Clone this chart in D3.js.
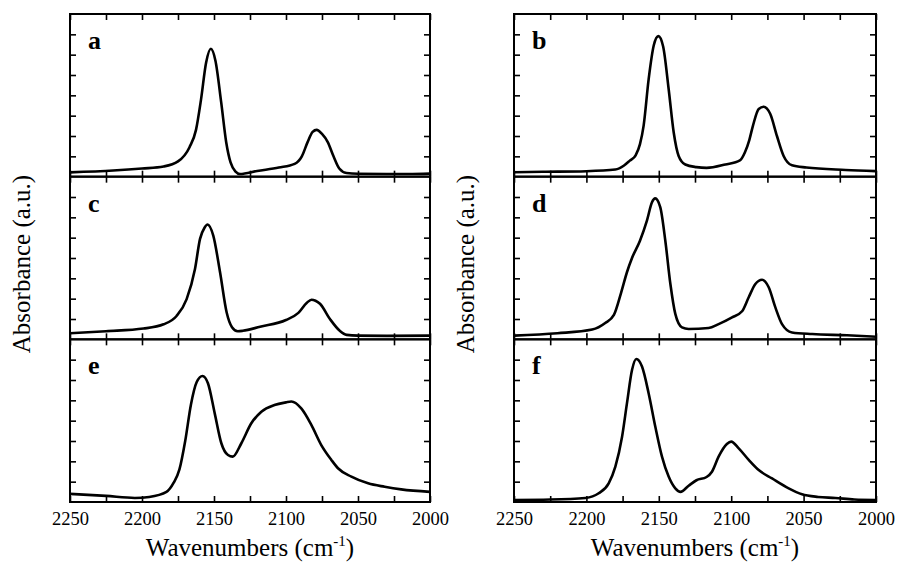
<!DOCTYPE html>
<html>
<head>
<meta charset="utf-8">
<script src="https://cdn.jsdelivr.net/npm/d3@7"></script>
<style>
  body { margin: 0; background: #fff; }
  svg text { font-family: "Liberation Serif", "DejaVu Serif", "Times New Roman", serif; fill: #000; }
</style>
</head>
<body>
<div id="chart"></div>
<script>
// data (wavenumber in cm-1, absorbance in tick units)
var wnA  = [2250,2220,2200,2185,2175,2167,2162.5,2159,2155.5,2152.2,2149,2145,2141.5,2138.5,2135,2132,2120,2105,2094,2089,2085,2081.5,2078.7,2075,2071,2067,2063,2058,2050,2030,2015,2000];
var absA = [0.21,0.3,0.4,0.5,0.75,1.45,2.3,3.8,5.6,6.29,5.7,3.65,1.68,0.7,0.25,0.13,0.28,0.45,0.63,1.0,1.7,2.2,2.3,2.1,1.7,1.0,0.4,0.18,0.14,0.13,0.13,0.15];

var wnB  = [2250,2230,2200,2180,2174,2170,2166,2163,2160.5,2157,2153.5,2150.3,2147,2143.2,2139.7,2136.3,2131.7,2124,2117,2104,2094,2090.5,2087.5,2085,2081,2077.6,2073,2068.4,2063.8,2058,2048,2021,2000];
var absB = [0.22,0.24,0.27,0.35,0.55,0.79,1.05,1.6,2.5,4.8,6.45,6.91,6.4,4.31,2.17,1.02,0.6,0.47,0.43,0.6,0.8,1.2,1.8,2.5,3.33,3.44,3.08,2.0,1.02,0.56,0.45,0.33,0.27];

var wnC  = [2250,2225,2199,2185,2176,2169,2163.2,2159.7,2156.5,2154.5,2150.5,2145.8,2141.2,2137.5,2133.5,2130,2118,2100,2091.4,2085.5,2082.3,2079.5,2076.4,2069.4,2062.5,2057.9,2050,2030,2000];
var absC = [0.3,0.4,0.53,0.74,1.15,1.98,3.46,4.94,5.5,5.65,5.1,3.3,1.32,0.6,0.4,0.42,0.62,0.95,1.3,1.8,1.95,1.9,1.75,0.99,0.41,0.22,0.18,0.17,0.18];

var wnD  = [2250,2220,2196,2187,2181,2176,2172,2168.5,2163,2158.2,2154.7,2152.5,2149,2145.5,2142,2138.6,2134,2129.4,2115.6,2108.7,2099.4,2092.5,2087.9,2083.3,2078.7,2074.1,2069.5,2064.9,2058,2044,2020,2000];
var absD = [0.18,0.3,0.48,0.8,1.2,2.3,3.3,4.0,4.85,5.84,6.74,6.93,6.5,4.85,2.72,1.25,0.59,0.51,0.56,0.75,1.08,1.38,2.07,2.72,2.93,2.56,1.57,0.75,0.34,0.26,0.2,0.13];

var wnE  = [2250,2225,2205,2195,2183,2178,2174,2170,2166,2162,2158,2154.2,2149.5,2144.9,2140.3,2137,2131,2124.1,2117.1,2108,2100,2096.3,2089.4,2082.4,2075.5,2068.5,2063.9,2054.6,2043,2031.5,2020,2000];
var absE = [0.4,0.3,0.2,0.25,0.5,0.95,1.6,3.0,4.8,5.9,6.2,5.84,4.36,2.89,2.31,2.23,2.89,3.87,4.44,4.77,4.9,4.94,4.6,3.79,2.8,2.07,1.66,1.25,0.92,0.75,0.62,0.5];

var wnF  = [2250,2225,2200.7,2191.5,2184.6,2180,2175.4,2172,2168.5,2165.5,2161.6,2157,2152.4,2147.8,2143.2,2138.6,2135,2129.4,2124,2117,2113.3,2108.7,2103,2100,2094.8,2087.9,2081,2071.8,2060.3,2051.1,2040,2028,2015,2000];
var absF = [0.1,0.12,0.2,0.43,0.92,1.74,3.2,4.85,6.49,7.03,6.66,5.34,3.7,2.23,1.25,0.67,0.5,0.8,1.07,1.23,1.49,2.23,2.85,2.97,2.64,2.07,1.57,1.16,0.67,0.38,0.25,0.2,0.12,0.1];

var panelLabels = ["a","b","c","d","e","f"];
var xTicks = d3.range(2250, 1999, -25);
var xLabels = [2250, 2200, 2150, 2100, 2050, 2000];
var yTicks = [1,2,3,4,5,6,7];

var series = [[wnA,absA],[wnB,absB],[wnC,absC],[wnD,absD],[wnE,absE],[wnF,absF]];

var serif = "'Liberation Serif', 'DejaVu Serif', 'Times New Roman', serif";
var W = 897, H = 562;
var colLeft = [70, 514], colWidth = [360, 362];
var top0 = 14, bottom0 = 502, rowH = (bottom0 - top0) / 3;

var svg = d3.select("#chart").append("svg")
  .attr("width", W).attr("height", H);

series.forEach(function(s, i) {
  var col = i % 2, row = Math.floor(i / 2);
  var x0 = colLeft[col], x1 = colLeft[col] + colWidth[col];
  var yTop = top0 + row * rowH, yBot = yTop + rowH;

  var x = d3.scaleLinear().domain([2250, 2000]).range([x0, x1]);
  var y = d3.scaleLinear().domain([0, 8]).range([yBot, yTop]);

  var g = svg.append("g");

  // ticks pointing in on every side
  var bottomAxis = d3.axisBottom(x).tickValues(xTicks).tickSize(-6).tickSizeOuter(0)
    .tickPadding(10)
    .tickFormat(function(d) { return (row == 2 && xLabels.indexOf(d) >= 0) ? d : ""; });
  g.append("g").attr("transform", "translate(0," + yBot + ")").call(bottomAxis);
  g.append("g").attr("transform", "translate(0," + yTop + ")")
    .call(d3.axisTop(x).tickValues(xTicks).tickSize(-6).tickSizeOuter(0).tickFormat(""));
  g.append("g").attr("transform", "translate(" + x0 + ",0)")
    .call(d3.axisLeft(y).tickValues(yTicks).tickSize(-6).tickSizeOuter(0).tickFormat(""));
  g.append("g").attr("transform", "translate(" + x1 + ",0)")
    .call(d3.axisRight(y).tickValues(yTicks).tickSize(-6).tickSizeOuter(0).tickFormat(""));

  g.selectAll(".domain").remove();
  g.selectAll("g").attr("font-family", serif).attr("font-size", 18);
  g.selectAll(".tick line").attr("stroke", "#000").attr("stroke-width", 1.6);
  g.selectAll(".tick text").attr("fill", "#000")
    .attr("font-family", serif)
    .style("font-size", "18.5px");

  var pts = s[0].map(function(w, k) { return [w, s[1][k]]; });
  var line = d3.line()
    .x(function(d) { return x(d[0]); })
    .y(function(d) { return y(d[1]); })
    .curve(d3.curveMonotoneX);

  g.append("path")
    .datum(pts)
    .attr("d", line)
    .attr("fill", "none")
    .attr("stroke", "#000")
    .attr("stroke-width", 2.6)
    .attr("stroke-linejoin", "round");

  g.append("rect")
    .attr("x", x0).attr("y", yTop)
    .attr("width", x1 - x0).attr("height", rowH)
    .attr("fill", "none").attr("stroke", "#000").attr("stroke-width", 2);

  g.append("text")
    .attr("x", x0 + 18).attr("y", yTop + 35)
    .attr("font-family", serif)
    .style("font-size", "26px").style("font-weight", "bold")
    .text(panelLabels[i]);
});

// axis titles
[0, 1].forEach(function(col) {
  var cx = colLeft[col] + colWidth[col] / 2;
  var t = svg.append("text")
    .attr("x", cx).attr("y", 556)
    .attr("text-anchor", "middle")
    .attr("font-family", serif)
    .style("font-size", "25px");
  t.append("tspan").text("Wavenumbers (cm");
  t.append("tspan").attr("dy", -10).style("font-size", "15px").text("-1");
  t.append("tspan").attr("dy", 10).text(")");

  svg.append("text")
    .attr("transform", "translate(" + (colLeft[col] - 40) + "," + 264 + ") rotate(-90)")
    .attr("text-anchor", "middle")
    .attr("font-family", serif)
    .style("font-size", "25px")
    .text("Absorbance (a.u.)");
});
</script>
</body>
</html>
